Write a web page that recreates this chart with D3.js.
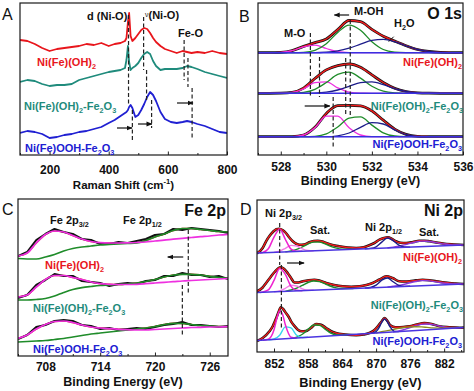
<!DOCTYPE html>
<html>
<head>
<meta charset="utf-8">
<script src="https://cdn.jsdelivr.net/npm/d3@7"></script>
<style>
  body { margin: 0; background: #fff; }
  text { font-family: "Liberation Sans", Arial, sans-serif; }
</style>
</head>
<body>
<svg id="fig" width="474" height="391"></svg>
<script>
// ---------------- data (intensities in arbitrary units) ----------------
var samples = ["Ni(Fe)(OH)_2", "Ni(Fe)(OH)_2-Fe_2O_3", "Ni(Fe)OOH-Fe_2O_3"];
var sampleColors = ["#e8161c", "#1f8b7c", "#2020d2"];

// A - Raman
var ramanShift = [100,125,150,175,200,225,250,275,300,325,350,375,400,420,440,455,460,465,469,474,480,490,500,510,520,530,540,550,560,575,590,610,630,650,665,680,700,725,750,775,800];
var ramanRed  = [115,114,111,107,104,106,107,108,109,111,110,112,109,111,112,114,117,133,142,119,114,117,121,125,127,126,122,117,113,109,106,104,102,104,103,102,103,102,104,102,101];
var ramanTeal = [73,75,74,71,69,70,70,71,75,77,79,81,83,84,85,87,95,109,93,85,87,89,92,97,101,103,101,94,89,85,86,86,86,87,89,88,86,83,81,79,77];
var ramanBlue = [22,24,23,21,17,18,20,21,23,24,26,28,32,35,39,42,43,45,48,50,47,38,40,45,51,58,63,60,54,43,36,33,32,33,34,33,31,29,26,23,22];
var ramanTicks = [200, 400, 600, 800];
var ramanMinor = [100, 300, 500, 700];

// B - O 1s (component heights above each background)
var o1sEnergy = [527,527.5,528,528.5,529,529.5,530,530.5,531,531.5,532,532.5,533,533.5,534,534.5,535,535.5,536];
var o1sBase = [102.3, 61.7, 18.3];
var o1sMO = [
  [0,0,0.3,2.0,5.9,7.6,4.2,1.0,0.1,0,0,0,0,0,0,0,0,0,0],
  [0,0,0.1,0.8,4.3,10.6,11.5,5.5,1.1,0.1,0,0,0,0,0,0,0,0,0],
  [0,0,0,0.1,1.7,9.0,20.5,20.5,9.0,1.7,0.1,0,0,0,0,0,0,0,0]
];
var o1sMOH = [
  [0,0,0,0.05,0.4,2.4,9.0,20.3,27.6,22.5,11.0,3.2,0.6,0.1,0,0,0,0,0],
  [0,0,0,0.1,0.9,4.0,10.8,18.9,21.2,15.2,7.0,2.1,0.4,0,0,0,0,0,0],
  [0,0,0,0,0,0.4,2.8,9.7,18.6,19.8,11.6,3.8,0.7,0.1,0,0,0,0,0]
];
var o1sH2O = [
  [0,0,0,0,0,0,0.5,1.8,4.5,8.5,12.3,13.3,11.0,6.9,3.2,1.2,0.3,0.1,0],
  [0,0,0,0,0,0.2,1.1,3.3,7.0,10.7,11.4,8.7,4.6,1.8,0.5,0.1,0,0,0],
  [0,0,0,0,0,0,0,0.9,3.7,9.4,14.1,12.7,6.9,2.2,0.4,0.1,0,0,0]
];
var o1sTicks = [528, 530, 532, 534, 536];
var o1sMinor = [527, 529, 531, 533, 535];

// C - Fe 2p
var fe2pEnergy = [705,706,707,708,709,710,711,712,713,714,715,716,717,718,719,720,721,722,723,724,725,726,727,728];
var fe2p32Fit = [
  [100,103,113,121.5,125,124,120.5,117,114.5,113.3,113,113,113.2,113.5,114,115,115.8,116.8,117.7,118.5,119.3,120,121,121.7],
  [59,61,69,76.5,80.5,80.5,78.5,76.5,74,72.3,71.7,71.5,71.5,71.7,72.3,73,73.7,74.3,75,75.5,76,76.5,77,77.5],
  [17.5,21,27,31.5,34.5,35,33.5,31,29,28,27.3,26.7,26.3,26,26,26.5,27,27.5,28,28.5,28.7,29,29,29.3]
];
var fe2p12Fit = [
  [97.5,97,97,99,101.5,105,107.5,109,110,111,111.5,112,112.5,113,115.5,119,122,125.5,127.5,127.5,126.5,125.5,124.5,124],
  [56,56,56.5,57.5,60,63.5,66.5,68.3,69.5,70.5,71,71.5,72,73,74.5,76.5,79,81,81.7,81.7,81,79.7,78.5,77.7],
  [14,14.5,15,15.5,16.5,17.5,19,20.5,22,23,24,25,26,27,28,29.5,31.5,32.7,32.5,31.5,30.5,30,29.5,29]
];
var fe2pData = [
  [100,104,116,122,127,124,122,117,116,112,112,114,113,115,117,121,122,127,126,128,127,126,125,123],
  [58,61,71,76,82,80,80,75,74,73,70,72,73,72,75,76,80,80,83,81,81,79,80,77],
  [17,21,29,31,35,36,35,31,30,27,28,26,27,28,27,29,31,32,34,31,31,30,29,30]
];
var fe2pTicks = [708, 714, 720, 726];
var fe2pMinor = [705, 711, 717, 723];

// D - Ni 2p ([eV, intensity] for fits, [eV, height above background] for components)
var niBaseEnergy = [849, 885.5];
var niBase = [[99, 107], [59.5, 68], [11.5, 24.5]];
var niFit = [
  [[849,98.7],[850,104],[850.6,110.7],[851.2,116],[851.8,120],[852.4,122.8],[852.9,123.3],[853.5,122],[854.1,119],[854.7,114.5],[855.3,110.7],[856,108],[856.5,107.3],[857.3,107.5],[858.2,109.7],[859,111],[859.7,111.3],[860.5,110.5],[861.2,109],[862.3,107],[863.5,105.7],[865,104.5],[866.5,104],[867.8,104.8],[868.8,106.7],[869.7,109],[870.6,112.3],[871.4,114],[872.1,114.7],[872.8,113],[873.5,110.7],[874.3,109.3],[875.3,109],[876.5,110],[877.6,111.3],[878.5,111.3],[879.4,110.7],[880.6,109.5],[881.8,108.5],[883.3,107.7],[885.5,107]],
  [[849,60.7],[850,64.5],[850.6,69],[851.4,75],[852.1,80],[852.7,83.5],[853.2,84.7],[853.8,83],[854.4,79],[855,74],[855.6,69.5],[856.3,69.5],[857.1,70.7],[858.1,71.8],[859.1,72.3],[860.1,71.2],[861.2,69],[862.6,67],[864.1,65.7],[865.6,65.3],[867.1,65.7],[868.3,67],[869.4,69],[870.6,72.5],[871.8,75.7],[872.9,74],[874.1,70.7],[875,70.5],[875.9,70.7],[877,71.6],[878.2,72.3],[879.4,71.8],[880.6,70.7],[881.8,69.8],[882.9,69],[884,68.5],[885.5,68]],
  [[849,11],[850,14],[851.2,20.7],[851.8,26],[852.4,34],[852.8,40],[853.2,44.7],[853.6,43],[854.1,39],[854.6,35],[855,30.7],[855.6,26],[856.2,22.3],[856.9,20.7],[857.6,20.9],[858.5,24],[859.4,28],[860.3,27.2],[861.2,24],[862,21],[862.9,19],[864.5,17.5],[866.5,16.7],[867.8,17.5],[868.8,19],[869.6,21.5],[870.3,25.7],[870.9,30],[871.5,34],[872,31],[872.4,27.3],[873,25.3],[873.8,24.7],[874.8,25],[875.9,25.7],[877.2,27.5],[878.5,29],[879.8,28],[881.2,25.7],[882.9,24.8],[884.7,24.3],[885.5,24.5]]
];
var niMain = [
  [[849.5,0],[850,0.3],[851,3.8],[852,15.3],[853,22.9],[854,12.6],[855,2.6],[856,0.2],[857,0]],
  [[849.5,0],[850,0.2],[851,2.1],[852,11.4],[853,23],[854,16.9],[855,4.7],[856,0.5],[857,0]],
  [[850,0],[851,0.6],[852,9.7],[852.5,20.7],[853,28.2],[853.5,24.7],[854,13.9],[855,1.1],[856,0]]
];
var niShoulder = [
  [[852,0],[853,1],[854,3.6],[855,6.3],[856,5.5],[857,2.4],[858,0.5],[859,0]],
  [[852,0],[853,0.7],[854,3],[855,5.8],[856,4.9],[857,1.8],[858,0.3],[859,0]],
  [[851,0],[852,0.4],[853,3.9],[854,11.8],[855,10.4],[856,2.7],[857,0.2],[858,0]]
];
var niSat = [
  [[854,0],[855,0.8],[856,2.1],[857,4.3],[858,7],[859,8.7],[860,8.5],[861,6.5],[862,3.8],[863,1.8],[864,0.6],[865,0.2],[866,0]],
  [[854,0],[855,1.1],[856,2.8],[857,5.3],[858,7.9],[859,9.2],[860,8.3],[861,5.9],[862,3.2],[863,1.4],[864,0.5],[865,0.1],[866,0]],
  [[855,0],[856,0.9],[857,3.4],[858,8],[859,11.9],[860,11.4],[861,7],[862,2.7],[863,0.7],[864,0.1],[865,0]]
];
var niP12 = [
  [[868,0],[869,0.2],[870,1.6],[871,6.1],[872,10],[873,7.2],[874,2.3],[875,0.3],[876,0]],
  [[868,0],[869,0.4],[870,2.5],[871,7.2],[872,9.2],[873,5.2],[874,1.3],[875,0.1],[876,0]],
  [[869,0],[869.5,0.2],[870,1.4],[870.5,4.9],[871,10.5],[871.5,13.5],[872,10.5],[872.5,4.9],[873,1.4],[873.5,0.2],[874,0]]
];
var niP12Extra = [[870,0],[871,1],[872,1.6],[873,2.4],[874,3.2],[875,3.8],[876,4],[877,3.8],[878,3.2],[879,2.4],[880,1.6],[881,1],[882,0.5],[883,0.2],[884,0]];
var niSat2 = [
  [[872,0],[873,0.6],[874,1.3],[875,2.4],[876,3.7],[877,4.9],[878,5.5],[879,5.2],[880,4.2],[881,2.9],[882,1.7],[883,0.9],[884,0.4],[885,0.1]],
  [[872,0],[873,0.6],[874,1.2],[875,2.2],[876,3.5],[877,4.5],[878,5.1],[879,4.9],[880,3.9],[881,2.7],[882,1.6],[883,0.8],[884,0.3],[885,0.1]],
  [[873,0],[874,0.7],[875,1.7],[876,3.2],[877,4.8],[878,5.8],[879,5.8],[880,4.8],[881,3.2],[882,1.7],[883,0.7],[884,0.3],[885,0.1]]
];
var niTicks = [852, 858, 864, 870, 876, 882];
var niMinor = [855, 861, 867, 873, 879, 885];

// ---------------- drawing ----------------
var svg = d3.select("#fig");
var defs = svg.append("defs");
defs.append("marker").attr("id", "ah")
    .attr("viewBox", "0 0 10 10").attr("refX", 9).attr("refY", 5)
    .attr("markerWidth", 5).attr("markerHeight", 5).attr("orient", "auto")
  .append("path").attr("d", "M0,1L10,5L0,9z").attr("fill", "#111");

// text with _x / _{..} subscripts and ^{..} superscripts
function rich(sel, str, size) {
  var parts = [], buf = "", i = 0;
  while (i < str.length) {
    var c = str[i];
    if (c === "_" || c === "^") {
      if (buf) parts.push({t: buf, m: 0});
      buf = "";
      var t;
      if (str[i + 1] === "{") { var j = str.indexOf("}", i); t = str.slice(i + 2, j); i = j + 1; }
      else { t = str[i + 1]; i += 2; }
      parts.push({t: t, m: c === "_" ? 1 : -1});
    } else { buf += c; i++; }
  }
  if (buf) parts.push({t: buf, m: 0});
  var shift = 0;
  parts.forEach(function(p) {
    var target = p.m === 1 ? size * 0.3 : p.m === -1 ? -size * 0.42 : 0;
    sel.append("tspan").attr("dy", target - shift)
       .attr("font-size", p.m ? size * 0.66 : size).text(p.t);
    shift = target;
  });
  return sel;
}

function label(x, y, str, opt) {
  opt = opt || {};
  var size = opt.size || 11;
  var t = svg.append("text").attr("x", x).attr("y", y)
      .attr("font-size", size)
      .attr("font-weight", opt.weight || "bold")
      .attr("fill", opt.color || "#111")
      .attr("text-anchor", opt.anchor || "start");
  return rich(t, str, size);
}

function panel(o) {
  var x = d3.scaleLinear().domain(o.xDomain).range([o.left, o.right]);
  var y = d3.scaleLinear().domain([0, o.bottom - o.top]).range([o.bottom, o.top]);
  defs.append("clipPath").attr("id", "clip" + o.id)
    .append("rect").attr("x", o.left).attr("y", o.top)
    .attr("width", o.right - o.left).attr("height", o.bottom - o.top);
  var plot = svg.append("g").attr("clip-path", "url(#clip" + o.id + ")");

  var ax = svg.append("g").attr("transform", "translate(0," + o.bottom + ")")
    .call(d3.axisBottom(x).tickValues(o.ticks).tickSize(-3.5).tickPadding(o.pad).tickFormat(d3.format("d")));
  ax.select(".domain").remove();
  ax.selectAll("line").attr("stroke", "#222");
  ax.selectAll("text").attr("font-size", 12).attr("font-weight", "bold")
    .attr("font-family", "Liberation Sans, Arial, sans-serif").attr("fill", "#111");
  var mi = svg.append("g").attr("transform", "translate(0," + o.bottom + ")")
    .call(d3.axisBottom(x).tickValues(o.minor).tickSize(-2).tickFormat(""));
  mi.select(".domain").remove();
  mi.selectAll("line").attr("stroke", "#222");

  svg.append("rect").attr("x", o.left).attr("y", o.top)
    .attr("width", o.right - o.left).attr("height", o.bottom - o.top)
    .attr("fill", "none").attr("stroke", "#1a1a1a").attr("stroke-width", 1.2);

  label((o.left + o.right) / 2, o.titleY, o.title, {size: o.titleSize, anchor: "middle"});
  label(o.letterX, o.letterY, o.letter, {size: 16, weight: "normal"});
  return {x: x, y: y, plot: plot};
}

function path(p, pts, color, width, curve) {
  p.plot.append("path")
    .attr("d", d3.line().x(function(d) { return p.x(d[0]); }).y(function(d) { return p.y(d[1]); })
      .curve(curve || d3.curveLinear)(pts))
    .attr("fill", "none").attr("stroke", color).attr("stroke-width", width)
    .attr("stroke-linejoin", "round");
}

function dashed(p, xv, y0, y1) {
  svg.append("line").attr("x1", p.x(xv)).attr("x2", p.x(xv)).attr("y1", p.y(y0)).attr("y2", p.y(y1))
    .attr("stroke", "#222").attr("stroke-width", 1.2).attr("stroke-dasharray", "4,2.5");
}

function arrow(p, xa, xb, yv) {
  svg.append("line").attr("x1", p.x(xa)).attr("x2", p.x(xb)).attr("y1", p.y(yv)).attr("y2", p.y(yv))
    .attr("stroke", "#111").attr("stroke-width", 1.2).attr("marker-end", "url(#ah)");
}

var zip = function(xs, ys) { return xs.map(function(v, i) { return [v, ys[i]]; }); };

// ---- A
var pA = panel({id: "A", left: 20, right: 227, top: 3, bottom: 155, xDomain: [100, 800],
  ticks: ramanTicks, minor: ramanMinor, pad: 10, title: "Raman Shift (cm^{-1})", titleY: 189,
  titleSize: 11.5, letter: "A", letterX: 2, letterY: 20});
[ramanRed, ramanTeal, ramanBlue].forEach(function(s, k) {
  path(pA, zip(ramanShift, s), sampleColors[k], 1.8);
});
dashed(pA, 467, 140, 50); dashed(pA, 480, 45, 15);
dashed(pA, 518, 138, 85); dashed(pA, 528, 85, 55); dashed(pA, 545, 55, 27);
dashed(pA, 655, 115, 75); dashed(pA, 668, 97, 68); dashed(pA, 682, 67, 15);
arrow(pA, 428, 479, 27); arrow(pA, 499, 546, 31); arrow(pA, 631, 685, 52);
label(87, 19.5, "d (Ni-O)");
var nu = svg.append("text").attr("x", 145).attr("y", 19).attr("font-weight", "bold").attr("fill", "#111");
nu.append("tspan").attr("font-size", 7).attr("font-weight", "normal").attr("dy", -2).text("ν");
nu.append("tspan").attr("font-size", 11).attr("dy", 2).text("(Ni-O)");
label(178, 37, "Fe-O");
label(37, 66, samples[0], {color: sampleColors[0]});
label(24, 110, samples[1], {color: sampleColors[1]});
label(25, 152, samples[2], {color: sampleColors[2]});

// ---- B
var pB = panel({id: "B", left: 258, right: 463, top: 3, bottom: 155, xDomain: [527, 536],
  ticks: o1sTicks, minor: o1sMinor, pad: 7, title: "Binding Energy (eV)", titleY: 184.5,
  titleSize: 12.5, letter: "B", letterX: 239, letterY: 22});
o1sBase.forEach(function(b, k) {
  var env = o1sEnergy.map(function(e, i) { return [e, b + o1sMO[k][i] + o1sMOH[k][i] + o1sH2O[k][i]]; });
  path(pB, env, "#111", 2.8, d3.curveMonotoneX);
  path(pB, env, "#ee1c1c", 1.4, d3.curveMonotoneX);
  [[o1sMO, "#ee30e0"], [o1sMOH, "#1f8c2a"], [o1sH2O, "#1c1c8a"]].forEach(function(c) {
    path(pB, o1sEnergy.map(function(e, i) { return [e, b + c[0][k][i]]; }), c[1], 1.3, d3.curveMonotoneX);
  });
  path(pB, [[527, b], [536, b]], "#3b2fe0", 1.6);
});
dashed(pB, 529.3, 122, 58); dashed(pB, 529.7, 98, 58); dashed(pB, 530.3, 58, 7);
dashed(pB, 531.05, 135, 40); dashed(pB, 530.85, 97, 40);
arrow(pB, 531.0, 530.35, 140); arrow(pB, 529.05, 530.15, 49);
svg.append("line").attr("x1", 393.7).attr("y1", 36.7).attr("x2", 388.7).attr("y2", 41.7)
  .attr("stroke", "#111").attr("stroke-width", 1);
label(284, 36.5, "M-O");
label(354, 14.5, "M-OH");
label(394, 27, "H_2O");
label(462, 18.5, "O 1s", {size: 16, anchor: "end"});
label(462, 66, samples[0], {color: sampleColors[0], anchor: "end"});
label(463, 110, samples[1], {color: sampleColors[1], anchor: "end"});
label(462, 148, samples[2], {color: sampleColors[2], anchor: "end"});

// ---- C
var pC = panel({id: "C", left: 18, right: 228, top: 199, bottom: 356, xDomain: [705, 728],
  ticks: fe2pTicks, minor: fe2pMinor, pad: 6, title: "Binding Energy (eV)", titleY: 385.5,
  titleSize: 12.5, letter: "C", letterX: 2, letterY: 215});
fe2pData.forEach(function(d, k) {
  var env = fe2pEnergy.map(function(e, i) { return [e, Math.max(fe2p32Fit[k][i], fe2p12Fit[k][i])]; });
  path(pC, env, "#d8261c", 1.6, d3.curveMonotoneX);
  path(pC, zip(fe2pEnergy, d), "#111", 2.0);
  path(pC, zip(fe2pEnergy, fe2p12Fit[k]), "#1f8c2a", 1.7, d3.curveMonotoneX);
  path(pC, zip(fe2pEnergy, fe2p32Fit[k]), "#ee30e0", 1.7, d3.curveMonotoneX);
});
dashed(pC, 723.65, 126, 61); dashed(pC, 723.0, 71, 21);
arrow(pC, 723.1, 721.4, 99);
label(50, 224, "Fe 2p_{3/2}");
label(123, 224, "Fe 2p_{1/2}");
label(226, 215.5, "Fe 2p", {size: 16, anchor: "end"});
label(45, 269, samples[0], {color: sampleColors[0]});
label(33, 312, samples[1], {color: sampleColors[1]});
label(33, 353, samples[2], {color: sampleColors[2]});

// ---- D
var pD = panel({id: "D", left: 257, right: 464, top: 200, bottom: 352, xDomain: [849, 885.5],
  ticks: niTicks, minor: niMinor, pad: 7, title: "Binding Energy (eV)", titleY: 386.5,
  titleSize: 12.8, letter: "D", letterX: 240, letterY: 215});
niFit.forEach(function(fit, k) {
  var base = d3.scaleLinear().domain(niBaseEnergy).range(niBase[k]);
  var onBase = function(c) { return c.map(function(d) { return [d[0], base(d[0]) + d[1]]; }); };
  path(pD, fit, "#111", 2.6, d3.curveMonotoneX);
  path(pD, fit, "#ee1c1c", 1.4, d3.curveMonotoneX);
  path(pD, onBase(niSat2[k]), "#8a3ad8", 1.4, d3.curveMonotoneX);
  if (k === 2) path(pD, onBase(niP12Extra), "#8c8c1c", 1.3, d3.curveMonotoneX);
  path(pD, onBase(niP12[k]), "#1c1c8a", 1.4, d3.curveMonotoneX);
  path(pD, onBase(niSat[k]), "#1f8c2a", 1.4, d3.curveMonotoneX);
  path(pD, onBase(niShoulder[k]), k === 2 ? "#36d6ee" : "#f57ae6", 1.4, d3.curveMonotoneX);
  path(pD, onBase(niMain[k]), "#ee22d0", 1.5, d3.curveMonotoneX);
  path(pD, niBaseEnergy.map(function(e, i) { return [e, niBase[k][i]]; }), "#4a34e0", 1.6);
});
dashed(pD, 853.0, 129, 87); dashed(pD, 853.3, 87, 24);
arrow(pD, 854.3, 857.3, 89);
label(265, 217, "Ni 2p_{3/2}");
label(310, 233.5, "Sat.");
label(365, 230.5, "Ni 2p_{1/2}");
label(419, 235.5, "Sat.");
label(463, 215.5, "Ni 2p", {size: 16, anchor: "end"});
label(462, 261, samples[0], {color: sampleColors[0], anchor: "end"});
label(463, 309, samples[1], {color: sampleColors[1], anchor: "end"});
label(462, 345, samples[2], {color: sampleColors[2], anchor: "end"});
</script>
</body>
</html>
